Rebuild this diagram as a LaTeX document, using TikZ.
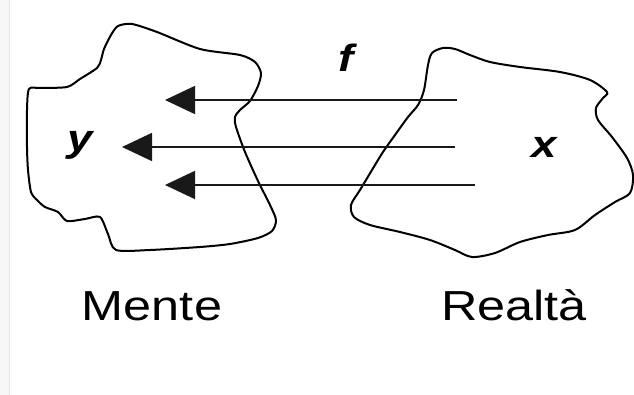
\documentclass[tikz,border=0pt]{standalone}
\usepackage{fontspec}
\usetikzlibrary{arrows.meta}
\newfontfamily\labfont[FakeStretch=1.2]{Liberation Sans}
\begin{document}
\begin{tikzpicture}[x=1pt,y=-1pt,
  blob/.style={draw=black, line width=2pt, line join=round},
  maparrow/.style={draw=black!90, line width=1.6pt,
    -{Triangle[length=30pt,width=28pt]}},
  setname/.style={font=\labfont\fontsize{42}{50}\selectfont, inner sep=0pt, anchor=base},
  varname/.style={font=\labfont\bfseries\itshape\fontsize{38}{44}\selectfont, inner sep=0pt, anchor=base}]
\useasboundingbox (0,0) rectangle (634,395);
\fill[white] (0,0) rectangle (634,395);
% thin grey margin strip on the left
\fill[black!3] (0,0) rectangle (9.5,395);
\draw[black!10, line width=0.8pt] (9.5,0) -- (9.5,395);

% the "Mente" region
\draw[blob] plot[smooth cycle, tension=0.45] coordinates {
  (118,26) (132,24) (157,32) (200,49) (240,55) (255,62) (261,73) (258,86)
  (250,101) (240,110) (235,117) (236,127) (245,152) (258,181) (270,205)
  (276,220) (272,231) (258,238) (230,244) (200,247) (150,250) (116,250)
  (108,234) (100,217) (85,219) (67,221) (58,212) (45,207) (37,200) (31,192)
  (28,170) (27,147) (27,110) (29,89) (40,88) (67,87) (80,79) (97,68)
  (101,60) (104,49) (111,35)};

% the "Realta" region
\draw[blob] plot[smooth cycle, tension=0.5] coordinates {
  (443,48) (432,53) (428,65) (424,90) (418,105) (408,117) (395,135)
  (383,152) (372,170) (360,190) (351,205) (354,217) (370,225) (400,232)
  (430,240) (455,250) (472,257) (495,253) (520,242) (548,235) (575,230)
  (595,215) (615,202) (630,193) (633,175) (627,158) (612,137) (598,120)
  (596,108) (603,98) (607,92) (590,80) (560,72) (520,67) (490,62)
  (470,55) (455,49)};

% labels
\node[varname] (y) at (80,152) {y};
\node[varname] (x) at (544,158) {x};
\node[varname] (f) at (346,72) {f};
\node[setname] (mente) at (152,320) {Mente};
\node[setname] (realta) at (514,320) {Realtà};

% arrows of the mapping f
\coordinate (s1) at (457,100);
\coordinate (t1) at (165,100);
\coordinate (s2) at (455,147);
\coordinate (t2) at (122,147);
\coordinate (s3) at (475,185);
\coordinate (t3) at (165,185);
\draw[maparrow] (s1) -- (t1);
\draw[maparrow] (s2) -- (t2);
\draw[maparrow] (s3) -- (t3);
\end{tikzpicture}
\end{document}
